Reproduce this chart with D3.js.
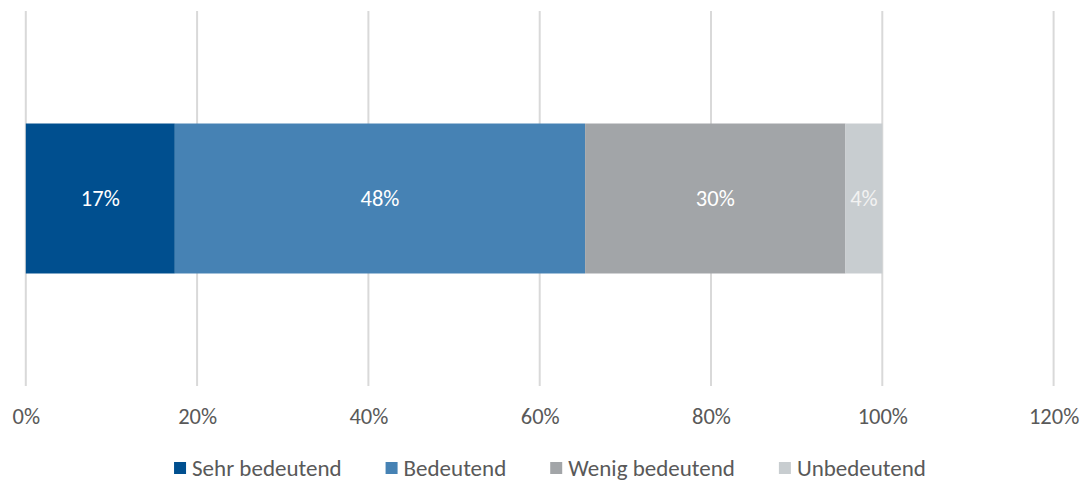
<!DOCTYPE html>
<html><head><meta charset="utf-8">
<script src="https://cdn.jsdelivr.net/npm/d3@7"></script>
<style>
html,body{margin:0;padding:0;background:#fff;}
svg{display:block;font-family:Carlito,Calibri,Lato,"Open Sans",sans-serif;}
</style></head>
<body>
<svg id="chart" width="1088" height="481"></svg>
<script>
const categories = ["Gesamt"];
const seriesNames = ["Sehr bedeutend", "Bedeutend", "Wenig bedeutend", "Unbedeutend"];
const seriesValues = [17.4, 47.9, 30.4, 4.3];
const seriesColors = ["#004f8f", "#4682b4", "#a2a5a8", "#c8cdd0"];
const labelColors = ["#ffffff", "#ffffff", "#ffffff", "#f2f2f2"];
const tickValues = [0, 20, 40, 60, 80, 100, 120];

const svg = d3.select("#chart");
const plot = {left: 25.8, right: 1053.6, top: 11, bottom: 386};

const x = d3.scaleLinear().domain([0, 120]).range([plot.left, plot.right]);
const y = d3.scaleBand().domain(categories).range([plot.top, plot.bottom]).padding(0.4286);

// gridlines
svg.append("g").selectAll("line").data(tickValues).join("line")
  .attr("x1", d => x(d)).attr("x2", d => x(d))
  .attr("y1", plot.top).attr("y2", plot.bottom)
  .attr("stroke", "#d9d9d9").attr("stroke-width", 2);

// stacked data
let acc = 0;
const segs = seriesValues.map((v, i) => { const s = {name: seriesNames[i], v, x0: acc, x1: acc + v, i}; acc += v; return s; });

const g = svg.append("g");
categories.forEach(cat => {
  g.selectAll("rect.seg").data(segs).join("rect").attr("class", "seg")
    .attr("x", d => x(d.x0)).attr("width", d => x(d.x1) - x(d.x0))
    .attr("y", y(cat)).attr("height", y.bandwidth())
    .attr("fill", d => seriesColors[d.i]);
  g.selectAll("text.lab").data(segs).join("text").attr("class", "lab")
    .attr("x", d => (x(d.x0) + x(d.x1)) / 2)
    .attr("y", y(cat) + y.bandwidth() / 2)
    .attr("dy", "0.35em").attr("text-anchor", "middle")
    .attr("font-size", 22.5).attr("fill", d => labelColors[d.i])
    .text(d => Math.round(d.v) + "%");
});

// x axis labels
const axis = d3.axisBottom(x).tickValues(tickValues).tickFormat(d => d + "%").tickSize(0).tickPadding(0);
const ax = svg.append("g").attr("transform", `translate(0,${plot.bottom})`).call(axis);
ax.select(".domain").remove();
ax.selectAll("text").attr("font-size", 22.5).attr("fill", "#595959")
  .attr("font-family", "Carlito,Calibri,Lato,sans-serif").attr("y", 30).attr("dy", "0.35em");

// legend
const legend = svg.append("g");
const items = legend.selectAll("g").data(seriesNames).join("g");
items.append("rect").attr("width", 12).attr("height", 12).attr("y", -6)
  .attr("fill", (d, i) => seriesColors[i]);
items.append("text").attr("x", 18).attr("dy", "0.35em").attr("font-size", 23)
  .attr("fill", "#595959").text(d => d);
const gap = 44;
const widths = [];
items.each(function() {
  widths.push(18 + d3.select(this).select("text").node().getComputedTextLength());
});
const total = d3.sum(widths) + gap * (widths.length - 1);
let lx = 550 - total / 2;
items.each(function(d, i) {
  d3.select(this).attr("transform", `translate(${lx},468)`);
  lx += widths[i] + gap;
});
</script>
</body></html>
